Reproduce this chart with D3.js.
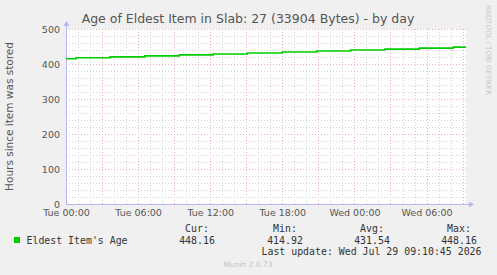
<!DOCTYPE html>
<html>
<head>
<meta charset="utf-8">
<script src="https://cdn.jsdelivr.net/npm/d3@7"></script>
<style>
  body { margin: 0; background: #f0f0f0; }
  text { font-family: "DejaVu Sans", sans-serif; }
  .mono { font-family: "DejaVu Sans Mono", monospace; }
</style>
</head>
<body>
<div id="chart-area"></div>
<script>
/*
*    munin slab age chart
*/

// data
var stepTimes = ["2026-07-28 00:00", "2026-07-28 00:50", "2026-07-28 03:40", "2026-07-28 06:34",
	"2026-07-28 09:26", "2026-07-28 12:15", "2026-07-28 15:05", "2026-07-28 18:00",
	"2026-07-28 20:52", "2026-07-28 23:41", "2026-07-29 02:32", "2026-07-29 05:24",
	"2026-07-29 08:13"];
var ageValues = [414.92, 414.92, 417.69, 420.46, 423.23, 426.00, 428.77, 431.54,
	434.31, 437.08, 439.85, 442.62, 445.39];
var lastValue = 448.16;
var yTicks = [0, 100, 200, 300, 400, 500];
var legendHeads = ["Cur:", "Min:", "Avg:", "Max:"];
var legendVals = ["448.16", "414.92", "431.54", "448.16"];

var W = 497, H = 275;
var margin = {top: 29, left: 66};
var w = 400, h = 175;

var parse = d3.timeParse("%Y-%m-%d %H:%M");
var tStart = parse("2026-07-28 00:00");
var tEnd = parse("2026-07-29 09:17");

var svg = d3.select("#chart-area").append("svg")
	.attr("width", W)
	.attr("height", H);

svg.append("rect").attr("width", W).attr("height", H).attr("fill", "#f0f0f0");

var g = svg.append("g")
	.attr("transform", "translate(" + margin.left + "," + margin.top + ")");

var x = d3.scaleTime().domain([tStart, tEnd]).range([0, w]);
var y = d3.scaleLinear().domain([0, 500]).range([h, 0]);

g.append("rect").attr("width", w).attr("height", h).attr("fill", "white");

// minor grid
var minorY = d3.range(0, 501, 20).filter(function(v) { return v % 100 != 0; });
g.selectAll(".minor-y").data(minorY).enter().append("line")
	.attr("x1", 0).attr("x2", w)
	.attr("y1", function(d) { return y(d) + 0.5; })
	.attr("y2", function(d) { return y(d) + 0.5; })
	.attr("stroke", "#d4d4d4").attr("stroke-dasharray", "1,2");

var hours = d3.timeHour.range(tStart, tEnd);
g.selectAll(".minor-x").data(hours.filter(function(d) { return d.getHours() % 3 != 0; }))
	.enter().append("line")
	.attr("y1", 0).attr("y2", h)
	.attr("x1", function(d) { return Math.round(x(d)) + 0.5; })
	.attr("x2", function(d) { return Math.round(x(d)) + 0.5; })
	.attr("stroke", "#d4d4d4").attr("stroke-dasharray", "1,2");

// major grid
g.selectAll(".major-y").data(yTicks).enter().append("line")
	.attr("x1", 0).attr("x2", w)
	.attr("y1", function(d) { return y(d) + 0.5; })
	.attr("y2", function(d) { return y(d) + 0.5; })
	.attr("stroke", "#e8b4b4").attr("stroke-dasharray", "1,2");

g.selectAll(".major-x").data(hours.filter(function(d) { return d.getHours() % 3 == 0; }))
	.enter().append("line")
	.attr("y1", 0).attr("y2", h)
	.attr("x1", function(d) { return Math.round(x(d)) + 0.5; })
	.attr("x2", function(d) { return Math.round(x(d)) + 0.5; })
	.attr("stroke", "#e8b4b4").attr("stroke-dasharray", "1,2");

// axis lines with arrows
var axisCol = "#b8b8f0";
g.append("line").attr("x1", 0.5).attr("x2", 0.5).attr("y1", h).attr("y2", -4)
	.attr("stroke", axisCol);
g.append("path").attr("d", "M-2.5,-3 L3.5,-3 L0.5,-8 Z").attr("fill", axisCol);
g.append("line").attr("x1", 0).attr("x2", w + 4).attr("y1", h + 0.5).attr("y2", h + 0.5)
	.attr("stroke", axisCol);
g.append("path").attr("d", "M" + (w + 3) + "," + (h - 2.5) + " L" + (w + 3) + "," + (h + 3.5) + " L" + (w + 8) + "," + (h + 0.5) + " Z")
	.attr("fill", axisCol);

// y labels
var left = d3.axisLeft(y).tickValues(yTicks).tickSize(0).tickPadding(6);
var yg = g.append("g").call(left);
yg.select(".domain").remove();
yg.selectAll("text").attr("fill", "#555").attr("font-size", "9.5px")
	.style("font-family", "DejaVu Sans");

// x labels
var sixHours = hours.filter(function(d) { return d.getHours() % 6 == 0; });
var bottom = d3.axisBottom(x).tickValues(sixHours).tickSize(0).tickPadding(5)
	.tickFormat(d3.timeFormat("%a %H:%M"));
var xg = g.append("g").attr("transform", "translate(0," + h + ")").call(bottom);
xg.select(".domain").remove();
xg.selectAll("text").attr("fill", "#555").attr("font-size", "9.5px")
	.style("font-family", "DejaVu Sans");

// data line
var pts = stepTimes.map(function(t, i) { return {t: parse(t), v: ageValues[i]}; });
pts.push({t: tEnd, v: lastValue});
var line = d3.line()
	.x(function(d) { return x(d.t); })
	.y(function(d) { return y(d.v); })
	.curve(d3.curveStepBefore);
g.append("path").datum(pts)
	.attr("d", line)
	.attr("fill", "none")
	.attr("stroke", "#00cc00")
	.attr("stroke-width", 1.6);

// title
svg.append("text")
	.attr("x", 248).attr("y", 23)
	.attr("text-anchor", "middle")
	.attr("font-size", "12.5px")
	.attr("fill", "#555")
	.text("Age of Eldest Item in Slab: 27 (33904 Bytes) - by day");

// y title
svg.append("text")
	.attr("transform", "translate(13," + (margin.top + h / 2) + ") rotate(-90)")
	.attr("text-anchor", "middle")
	.attr("font-size", "10.5px")
	.attr("fill", "#555")
	.text("Hours since item was stored");

// watermark
svg.append("text")
	.attr("transform", "translate(486,5) rotate(90)")
	.attr("font-size", "7px")
	.attr("fill", "#c8c8c8")
	.text("RRDTOOL / TOBI OETIKER");

// legend
svg.append("rect").attr("x", 14).attr("y", 237).attr("width", 6).attr("height", 6)
	.attr("fill", "#00cc00");
svg.append("text").attr("class", "mono")
	.attr("x", 26.5).attr("y", 243.5)
	.attr("font-size", "9.9px").attr("fill", "#333")
	.text("Eldest Item's Age");

var colX = [197, 285, 372, 459];
legendHeads.forEach(function(s, i) {
	svg.append("text").attr("class", "mono")
		.attr("x", colX[i]).attr("y", 232)
		.attr("text-anchor", "middle")
		.attr("font-size", "9.9px").attr("fill", "#333")
		.text(s);
	svg.append("text").attr("class", "mono")
		.attr("x", colX[i]).attr("y", 243.5)
		.attr("text-anchor", "middle")
		.attr("font-size", "9.9px").attr("fill", "#333")
		.text(legendVals[i]);
});

svg.append("text").attr("class", "mono")
	.attr("x", 261.5).attr("y", 255)
	.attr("font-size", "9.9px").attr("fill", "#333")
	.text("Last update: Wed Jul 29 09:10:45 2026");

svg.append("text")
	.attr("x", 248).attr("y", 267)
	.attr("text-anchor", "middle")
	.attr("font-size", "7.5px")
	.attr("fill", "#c4c4c4")
	.text("Munin 2.0.73");
</script>
</body>
</html>
